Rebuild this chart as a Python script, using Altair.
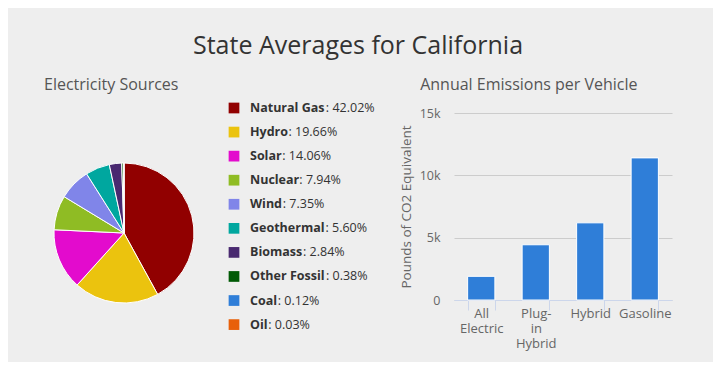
import altair as alt
import pandas as pd

FONT = "Open Sans"

sources = ["Natural Gas", "Hydro", "Solar", "Nuclear", "Wind", "Geothermal",
           "Biomass", "Other Fossil", "Coal", "Oil"]
shares = [42.02, 19.66, 14.06, 7.94, 7.35, 5.60, 2.84, 0.38, 0.12, 0.03]
colors = ["#910000", "#ebc30e", "#e30bcd", "#8fbc24", "#8085e9", "#00a79f",
          "#492970", "#005a05", "#2f7ed8", "#e8600a"]

vehicles = ["All Electric", "Plug-in Hybrid", "Hybrid", "Gasoline"]
emissions = [1900, 4430, 6190, 11400]

# approximate bold glyph widths (em) to place the regular value after the bold name
BOLD_W = {" ": 0.26, "A": 0.69, "B": 0.69, "C": 0.64, "G": 0.78, "H": 0.78, "N": 0.8,
          "O": 0.8, "S": 0.56, "W": 1.0, "a": 0.6, "b": 0.62, "c": 0.5, "d": 0.62,
          "e": 0.58, "f": 0.38, "g": 0.55, "h": 0.64, "i": 0.3, "l": 0.31, "m": 0.96,
          "n": 0.64, "o": 0.61, "r": 0.44, "s": 0.5, "t": 0.44, "u": 0.64, "y": 0.56}
LEG_FS = 12.5
NAME_X = 206


def bold_width(s):
    return sum(BOLD_W.get(ch, 0.6) for ch in s) * LEG_FS * 1.01 + 0.5


pie_df = pd.DataFrame({
    "source": sources,
    "share": shares,
    "idx": list(range(len(sources))),
    "value_txt": [": %.2f%%" % v for v in shares],
})
pie_df["vx"] = [NAME_X + bold_width(s) for s in sources]

bar_df = pd.DataFrame({"vehicle": vehicles, "emissions": emissions})

color_scale = alt.Scale(domain=sources, range=colors)
ysc = alt.Y("source:N", sort=sources, axis=None,
            scale=alt.Scale(type="point", padding=0, range=[-5, 211.6]))

base = alt.Chart(pie_df)
pie = base.mark_arc(radius=70, stroke="white", strokeWidth=1).encode(
    theta=alt.Theta("share:Q", stack=True),
    color=alt.Color("source:N", scale=color_scale, legend=None),
    order=alt.Order("idx:Q"),
    x=alt.value(80),
    y=alt.value(120),
)
squares = base.mark_square(size=115, opacity=1).encode(
    y=ysc,
    x=alt.value(190),
    color=alt.Color("source:N", scale=color_scale, legend=None),
)
names = base.mark_text(align="left", baseline="middle", font=FONT, fontSize=LEG_FS,
                       fontWeight="bold", color="#333").encode(
    y=ysc, x=alt.value(NAME_X), text="source:N")
vals = base.mark_text(align="left", baseline="middle", font=FONT, fontSize=LEG_FS,
                      color="#333").encode(
    y=ysc, x=alt.X("vx:Q", scale=None, axis=None), text="value_txt:N")

left = alt.layer(pie, squares, names, vals).properties(
    width=335, height=225,
    title=alt.TitleParams("Electricity Sources", anchor="start", fontSize=16, font=FONT,
                          color="#555", fontWeight="normal", offset=9),
)

label_expr = ("datum.label == 'Plug-in Hybrid' ? ['Plug-', 'in', 'Hybrid'] : "
              "split(datum.label, ' ')")
bars = alt.Chart(bar_df).mark_bar(color="#2f7ed8", stroke="white", strokeWidth=1).encode(
    x=alt.X("vehicle:N", sort=vehicles,
            scale=alt.Scale(paddingInner=0.5, paddingOuter=0.25),
            axis=alt.Axis(title=None, labelAngle=0, labelExpr=label_expr,
                          domainColor="#ccd6eb", tickColor="#ccd6eb", tickBand="extent",
                          tickSize=10, labelColor="#666", labelFontSize=13, labelFont=FONT,
                          labelPadding=-3, labelLineHeight=15)),
    y=alt.Y("emissions:Q", scale=alt.Scale(domain=[0, 15000]),
            axis=alt.Axis(values=[0, 5000, 10000, 15000],
                          labelExpr="datum.value == 0 ? '0' : (datum.value / 1000) + 'k'",
                          title="Pounds of CO2 Equivalent", domain=False, ticks=False,
                          gridColor="#cccccc", labelColor="#666", labelFontSize=12.5,
                          labelFont=FONT, labelPadding=14, titleColor="#666",
                          titleFontSize=13.5, titleFont=FONT, titleFontWeight="normal",
                          titlePadding=6)),
).properties(
    width=218, height=187,
    title=alt.TitleParams("Annual Emissions per Vehicle", anchor="start", fontSize=16,
                          font=FONT, color="#555", fontWeight="normal", offset=14, dx=21),
)

chart = alt.hconcat(left, bars, spacing=20).properties(
    title=alt.TitleParams("State Averages for California", anchor="middle", fontSize=25,
                          font=FONT, color="#333", fontWeight="normal", offset=18),
    padding={"left": 36, "top": 26, "right": 41, "bottom": 12},
).configure(background="#eeeeee").configure_view(stroke=None)

chart.save("out.html", embed_options={"renderer": "svg", "actions": False})
